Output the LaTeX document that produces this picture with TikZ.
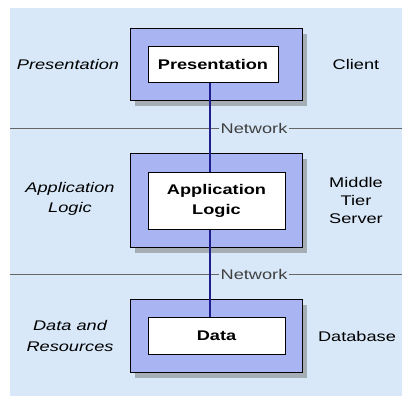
\documentclass[tikz,border=0pt]{standalone}
\usepackage{fontspec}
\setmainfont{Liberation Sans}[FakeStretch=1.3]
\usetikzlibrary{shadows}
\definecolor{paneblue}{HTML}{D8E8F8}
\definecolor{tierblue}{HTML}{A9B5F2}
\definecolor{busblue}{HTML}{1E1E8E}

\begin{document}
\begin{tikzpicture}[x=1pt,y=-1pt,font=\fontsize{14}{20}\selectfont]
\tikzstyle{tier}=[draw=black, fill=tierblue, minimum width=172pt,
  drop shadow={shadow xshift=5pt, shadow yshift=-6pt, fill=black!55}]
\tikzstyle{part}=[draw=black, fill=white, minimum width=137pt, align=center,
  font=\fontsize{14}{20}\selectfont\bfseries]
\tikzstyle{side}=[align=center]
\tikzstyle{net}=[draw=black!60, line width=0.9pt]
\tikzstyle{netlabel}=[fill=paneblue, inner sep=1.5pt, text=black!75]
\useasboundingbox (0,0) rectangle (402,396);
\fill[paneblue] (10,8) rectangle (402,396);
% network lines
\draw[net] (10,128) -- (402,128);
\draw[net] (10,274) -- (402,274);
\node[netlabel] (net1) at (254,128) {Network};
\node[netlabel] (net2) at (254,274) {Network};
% tiers
\node[tier, minimum height=72pt] (clienttier) at (216,64) {};
\node[tier, minimum height=94pt] (middletier) at (216,200) {};
\node[tier, minimum height=73pt] (datatier) at (216,335.5) {};
% bus through the tiers
\coordinate (bustop) at (210,64);
\coordinate (busbot) at (210,336);
\draw[busblue, line width=1.6pt] (bustop) -- (busbot);
% parts
\node[part, minimum width=130pt, minimum height=36pt] (pres) at (213,64) {Presentation};
\node[part, minimum height=57pt] (appl) at (216.5,200.5) {Application\\Logic};
\node[part, minimum height=37pt] (data) at (216.5,335.5) {Data};
% left labels
\node[side, font=\fontsize{14}{20}\selectfont\itshape] (lpres) at (68,64) {Presentation};
\node[side, font=\fontsize{14}{20}\selectfont\itshape] (lappl) at (70,199) {Application\\Logic};
\node[side, font=\fontsize{14}{21}\selectfont\itshape] (ldata) at (70,336) {Data and\\Resources};
% right labels
\node[side] (client) at (356,64) {Client};
\node[side, font=\fontsize{14}{18}\selectfont] (middle) at (356,200) {Middle\\Tier\\Server};
\node[side] (database) at (357,336) {Database};
\end{tikzpicture}
\end{document}
